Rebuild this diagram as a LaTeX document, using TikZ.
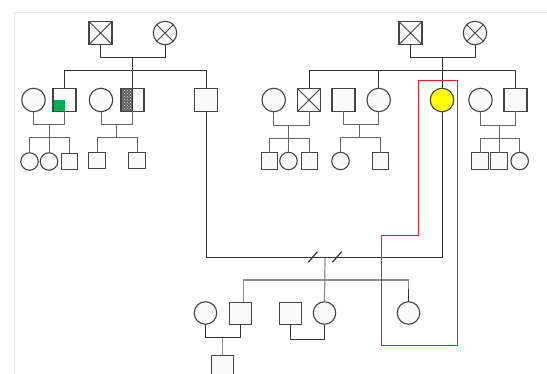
\documentclass[tikz,border=0pt]{standalone}
\usetikzlibrary{patterns}
\definecolor{dk}{HTML}{333333}
\definecolor{md}{HTML}{666666}
\definecolor{gr}{HTML}{8C8C8C}
\definecolor{bd}{HTML}{444444}
\definecolor{shfill}{HTML}{FAFAFA}
\definecolor{framec}{HTML}{E6E6E6}
\definecolor{grn}{HTML}{00B050}
\definecolor{ylw}{HTML}{FFFF00}
\definecolor{redl}{RGB}{240,30,30}
\tikzset{
  base/.style={draw=bd, fill=shfill, line width=1.1pt, inner sep=0pt, outer sep=0pt},
  msq/.style={base, rectangle, minimum size=23pt},
  fci/.style={base, circle, minimum size=23.5pt},
  ksq/.style={base, rectangle, minimum size=16.5pt},
  kci/.style={base, circle, minimum size=17.5pt},
  crossed/.style={path picture={
     \draw[bd, line width=1pt] (path picture bounding box.north west) -- (path picture bounding box.south east)
       (path picture bounding box.north east) -- (path picture bounding box.south west);}},
  greenq/.style={path picture={
     \fill[grn] (path picture bounding box.south west) rectangle (path picture bounding box.center);}},
  halfhatch/.style={path picture={
     \fill[gray!75!black] (path picture bounding box.south west) rectangle (path picture bounding box.north);
     \fill[pattern=crosshatch dots, pattern color=white!80!gray] (path picture bounding box.south west) rectangle (path picture bounding box.north);
     \draw[dk, line width=1pt] (path picture bounding box.north) -- (path picture bounding box.south);}},
  ln/.style={draw=dk, line width=1pt},
  cl/.style={draw=md, line width=1pt},
  gl/.style={draw=gr, line width=1.2pt},
  redbox/.style={draw=redl, line width=1.5pt},
}
\begin{document}
\begin{tikzpicture}[x=1pt,y=-1pt]
\useasboundingbox (0,0) rectangle (547,374);
% frame
\draw[framec, line width=1.5pt] (14.7,374) -- (14.7,12.3) -- (547,12.3);

% ---------- left family ----------
\node[msq, crossed] (gf1) at (100.5,33) {};
\node[fci, crossed] (gm1) at (165,33) {};
\node[fci] (c1) at (33.5,100) {};
\node[msq, greenq] (s1) at (64.5,100) {};
\node[fci] (c2) at (101,100) {};
\node[msq, halfhatch] (s2) at (132.5,100) {};
\node[msq] (s3) at (206,100) {};
\node[kci] (k1) at (29.5,161.5) {};
\node[kci] (k2) at (49,161.5) {};
\node[ksq] (k3) at (69.5,161.5) {};
\node[ksq] (k4) at (97,160.5) {};
\node[ksq] (k5) at (137,160.5) {};

\draw[ln] (gf1.south) -- ++(0,13.5) -| (gm1.south);
\draw[ln] (s2.north |- 0,58) -- (s2.north);
\draw[ln] (s1.north) -- ++(0,-17.5) -| (s3.north);
\draw[cl] (c1.south) -- ++(0,12.5) -| (s1.south);
\draw[cl] (k2.north) -- ++(0,-29) ;
\draw[cl] (k1.north) -- ++(0,-15) -| (k3.north);
\draw[cl] (c2.south) -- ++(0,12.5) -| (s2.south);
\coordinate (m2) at (116,124);
\draw[cl] (m2) -- ++(0,13.5);
\draw[cl] (k4.north) -- ++(0,-14.5) -| (k5.north);

% ---------- right family ----------
\node[msq, crossed] (gf2) at (410.5,33) {};
\node[fci, crossed] (gm2) at (475,33) {};
\node[fci] (c3) at (273.7,100) {};
\node[msq, crossed] (xs) at (309,100) {};
\node[msq] (s4) at (343.5,100) {};
\node[fci] (c4) at (378.7,100) {};
\node[fci, fill=ylw] (y) at (442,100) {};
\node[fci] (c5) at (480.5,100) {};
\node[msq] (s5) at (515.5,100) {};
\node[ksq] (r1) at (269.5,161) {};
\node[kci] (r2) at (288.5,161) {};
\node[ksq] (r3) at (309.5,161) {};
\node[kci] (r4) at (340.5,161) {};
\node[ksq] (r5) at (380.5,161) {};
\node[ksq] (r6) at (480,161) {};
\node[ksq] (r7) at (499,161) {};
\node[kci] (r8) at (519.7,161) {};

\draw[ln] (gf2.south) -- ++(0,13.5) -| (gm2.south);
\draw[ln] (y.north |- 0,58) -- (y.north);
\draw[ln] (xs.north) -- ++(0,-17.5) -| (s5.north);
\draw[ln] (c4.north) -- ++(0,-17.5);
\draw[cl] (c3.south) -- ++(0,13.5) -| (xs.south);
\draw[cl] (r2.north) -- ++(0,-27.5);
\draw[cl] (r1.north) -- ++(0,-14.5) -| (r3.north);
\draw[cl] (s4.south) -- ++(0,13.5) -| (c4.south);
\coordinate (m4) at (359.3,125);
\draw[cl] (m4) -- ++(0,13.5);
\draw[cl] (r4.north) -- ++(0,-14.5) -| (r5.north);
\draw[cl] (c5.south) -- ++(0,13.5) -| (s5.south);
\draw[cl] (r7.north) -- ++(0,-27.5);
\draw[cl] (r6.north) -- ++(0,-14.5) -| (r8.north);

% ---------- union ----------
\node[fci, minimum size=22.5pt] (c6) at (205.5,313) {};
\node[msq, minimum size=22pt] (s6) at (240.5,313.5) {};
\node[msq, minimum size=22pt] (s7) at (290.5,313.5) {};
\node[fci, minimum size=22.5pt] (c7) at (324.5,313) {};
\node[fci, minimum size=22.5pt] (c8) at (408.5,313) {};
\node[msq, minimum size=22pt] (k9) at (222.5,366.5) {};

\coordinate (u2) at (325,257.5);
\draw[ln] (s3.south) |- (u2) -| (y.south);
\draw[ln, line width=1.2pt] (308.3,262.3) -- (317.3,251.7);
\draw[ln, line width=1.2pt] (332.3,262.3) -- (341.7,251.7);
\draw[gl] (u2) -- (c7.north);
\coordinate (sb) at (243.5,280);
\draw[gl] (sb |- s6.north) -- (sb) -| (c8.north);
\draw[ln] (c8.north) -- ++(0,-13);
\draw[ln] (c6.south) -- ++(0,13.5) -| (s6.south);
\draw[gl] (k9.north) -- ++(0,-17);
\draw[ln] (s7.south) -- ++(0,15) -| (c7.south);

% ---------- red outline ----------
\draw[redbox] (418.5,80.5) -- (457.5,80.5) -- (457.5,345.5) -- (381.5,345.5) -- (381.5,235.5) -- (418.5,235.5) -- cycle;
\end{tikzpicture}
\end{document}
